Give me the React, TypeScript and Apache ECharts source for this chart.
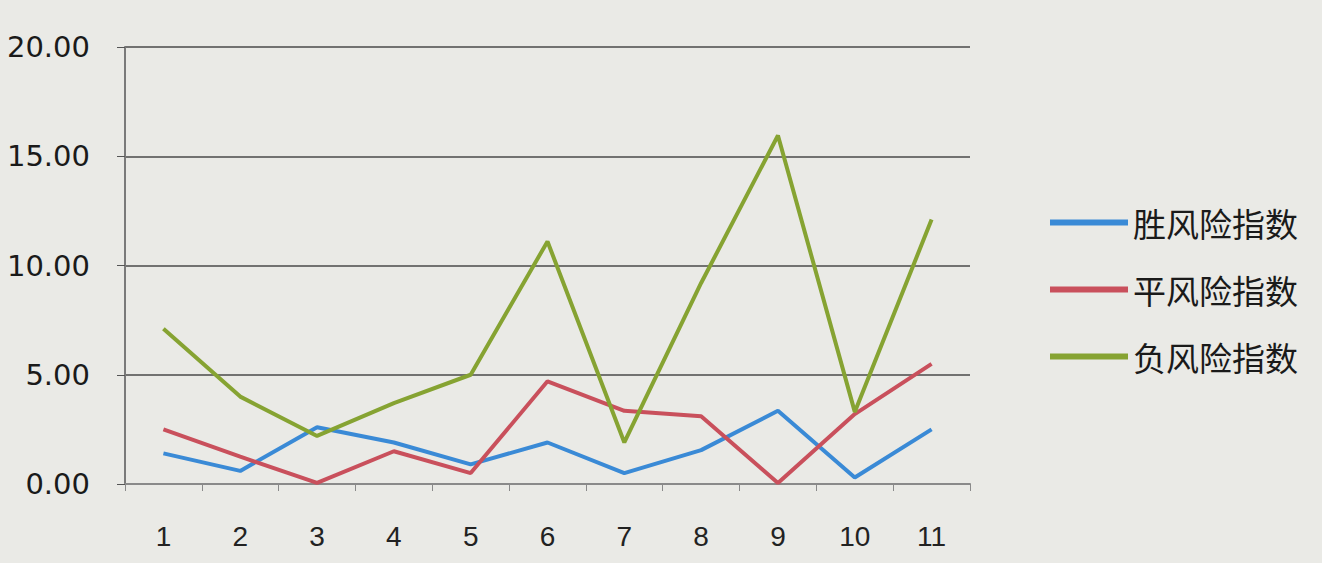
import React, { useEffect, useRef } from "react";
import * as echarts from "echarts";

const categories = ["1", "2", "3", "4", "5", "6", "7", "8", "9", "10", "11"];
const winRisk = [1.4, 0.6, 2.6, 1.9, 0.9, 1.9, 0.5, 1.55, 3.35, 0.3, 2.5];
const drawRisk = [2.5, 1.25, 0.05, 1.5, 0.5, 4.7, 3.35, 3.1, 0.05, 3.2, 5.5];
const lossRisk = [7.1, 4.0, 2.2, 3.7, 5.0, 11.1, 1.9, 9.2, 15.95, 3.3, 12.1];
const seriesNames = ["胜风险指数", "平风险指数", "负风险指数"];
const yTicks = { min: 0, max: 20, interval: 5 };

export default function App() {
  const ref = useRef<HTMLDivElement>(null);
  useEffect(() => {
    if (!ref.current) return;
    const chart = echarts.init(ref.current, null, { renderer: "svg" });
    const colors = ["#3a8ad6", "#c9505c", "#86a332"];
    const data = [winRisk, drawRisk, lossRisk];
    chart.setOption({
      animation: false,
      backgroundColor: "#eaeae6",
      color: colors,
      grid: { left: 125, right: 352, top: 47, bottom: 79 },
      legend: {
        orient: "vertical",
        left: 1045,
        top: 201,
        itemGap: 34,
        itemWidth: 78,
        itemHeight: 6,
        icon: "rect",
        textStyle: { fontSize: 33, color: "#1a1a1a", fontFamily: "Noto Sans CJK SC" },
        data: seriesNames,
      },
      xAxis: {
        type: "category",
        data: categories,
        boundaryGap: true,
        axisLine: { lineStyle: { color: "#8a8a8a", width: 2 } },
        axisTick: { show: true, length: 7, lineStyle: { color: "#8a8a8a" } },
        axisLabel: { fontSize: 28, color: "#222", margin: 38, fontFamily: "Liberation Sans" },
      },
      yAxis: {
        type: "value",
        min: yTicks.min,
        max: yTicks.max,
        interval: yTicks.interval,
        axisLine: { show: true, lineStyle: { color: "#7a7a7a", width: 2 } },
        axisTick: { show: true, length: 8, lineStyle: { color: "#555" } },
        splitLine: { lineStyle: { color: "#4a4a4a", width: 1.5 } },
        axisLabel: {
          fontSize: 29,
          color: "#1a1a1a",
          margin: 35,
          fontFamily: "DejaVu Sans",
          formatter: (v: number) => v.toFixed(2),
        },
      },
      series: seriesNames.map((name, i) => ({
        name,
        type: "line",
        data: data[i],
        symbol: "none",
        lineStyle: { width: 4, color: colors[i] },
        z: 3 + i,
      })),
    });
    return () => chart.dispose();
  }, []);
  return <div ref={ref} style={{ width: 1322, height: 563, position: "absolute", left: 0, top: 0 }} />;
}
